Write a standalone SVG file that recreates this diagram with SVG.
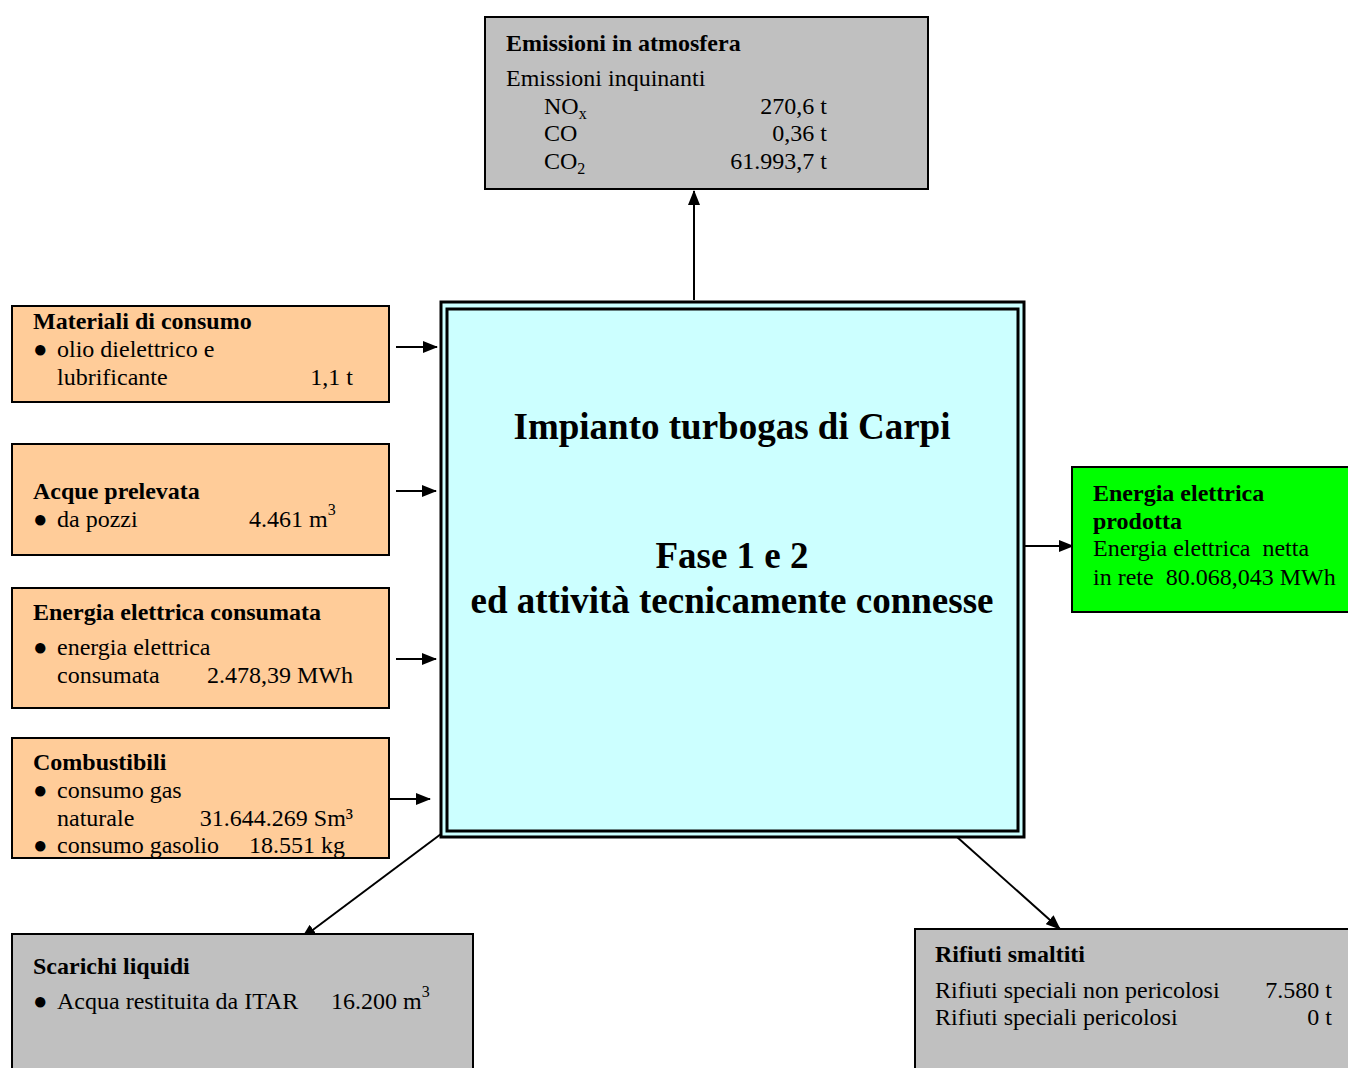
<svg xmlns="http://www.w3.org/2000/svg" width="1348" height="1068" viewBox="0 0 1348 1068">
<style>
text{font-family:"Liberation Serif","Times New Roman",serif;font-size:24px;fill:#000}
.b{font-weight:bold}
.t{font-weight:bold;font-size:37px;text-anchor:middle}
.r{text-anchor:end}
.gray{fill:#C0C0C0;stroke:#000;stroke-width:2}
.or{fill:#FFCC99;stroke:#000;stroke-width:2}
.gr{fill:#00FF00;stroke:#000;stroke-width:2}
.c{stroke:#000;stroke-width:2;fill:none;marker-end:url(#ah)}
.sub{font-size:16px}
</style>
<defs>
<marker id="ah" viewBox="0 0 15 12" refX="14" refY="6" markerWidth="15" markerHeight="12" markerUnits="userSpaceOnUse" orient="auto">
<path d="M0,0 L15,6 L0,12 Z" fill="#000"/>
</marker>
</defs>
<rect width="1348" height="1068" fill="#fff"/>
<g id="connectors">
<line class="c" x1="694" y1="300" x2="694" y2="191"/>
<line class="c" x1="396" y1="347" x2="437" y2="347"/>
<line class="c" x1="396" y1="491" x2="436" y2="491"/>
<line class="c" x1="396" y1="659" x2="436" y2="659"/>
<line class="c" x1="389" y1="799" x2="430" y2="799"/>
<line class="c" x1="1022" y1="546" x2="1073" y2="546"/>
<line class="c" x1="441" y1="834" x2="302" y2="938"/>
<line class="c" x1="957" y1="837" x2="1060" y2="929"/>
</g>
<g id="emissioni">
<rect class="gray" x="485" y="17" width="443" height="172"/>
<text class="b" x="506" y="51">Emissioni in atmosfera</text>
<text x="506" y="86">Emissioni inquinanti</text>
<text x="544" y="114">NO<tspan class="sub" dy="5">x</tspan></text>
<text class="r" x="827" y="114">270,6 t</text>
<text x="544" y="141">CO</text>
<text class="r" x="827" y="141">0,36 t</text>
<text x="544" y="169">CO<tspan class="sub" dy="5">2</tspan></text>
<text class="r" x="827" y="169">61.993,7 t</text>
</g>
<g id="impianto">
<rect x="441" y="302" width="583" height="535" fill="#CCFFFF" stroke="#000" stroke-width="3"/>
<rect x="447" y="309" width="571" height="522" fill="none" stroke="#000" stroke-width="3"/>
<text class="t" x="732" y="439">Impianto turbogas di Carpi</text>
<text class="t" x="732" y="568">Fase 1 e 2</text>
<text class="t" x="732" y="613">ed attività tecnicamente connesse</text>
</g>
<g id="materiali">
<rect class="or" x="12" y="306" width="377" height="96"/>
<text class="b" x="33" y="329">Materiali di consumo</text>
<text x="33" y="357">●</text><text x="57" y="357">olio dielettrico e</text>
<text x="57" y="385">lubrificante</text>
<text class="r" x="353" y="385">1,1 t</text>
</g>
<g id="acque">
<rect class="or" x="12" y="444" width="377" height="111"/>
<text class="b" x="33" y="499">Acque prelevata</text>
<text x="33" y="527">●</text><text x="57" y="527">da pozzi</text>
<text x="249" y="527">4.461 m<tspan class="sub" dy="-12">3</tspan></text>
</g>
<g id="energia-consumata">
<rect class="or" x="12" y="588" width="377" height="120"/>
<text class="b" x="33" y="620">Energia elettrica consumata</text>
<text x="33" y="655">●</text><text x="57" y="655">energia elettrica</text>
<text x="57" y="683">consumata</text>
<text class="r" x="353" y="683">2.478,39 MWh</text>
</g>
<g id="combustibili">
<rect class="or" x="12" y="738" width="377" height="120"/>
<text class="b" x="33" y="770">Combustibili</text>
<text x="33" y="798">●</text><text x="57" y="798">consumo gas</text>
<text x="57" y="826">naturale</text>
<text class="r" x="353" y="826">31.644.269 Sm³</text>
<text x="33" y="853">●</text><text x="57" y="853">consumo gasolio</text>
<text x="249" y="853">18.551 kg</text>
</g>
<g id="energia-prodotta">
<rect class="gr" x="1072" y="467" width="284" height="145"/>
<text class="b" x="1093" y="501">Energia elettrica</text>
<text class="b" x="1093" y="529">prodotta</text>
<text x="1093" y="556" xml:space="preserve">Energia elettrica  netta</text>
<text x="1093" y="585" xml:space="preserve">in rete  80.068,043 MWh</text>
</g>
<g id="scarichi">
<rect class="gray" x="12" y="934" width="461" height="140"/>
<text class="b" x="33" y="974">Scarichi liquidi</text>
<text x="33" y="1009">●</text><text x="57" y="1009">Acqua restituita da ITAR</text>
<text x="331" y="1009">16.200 m<tspan class="sub" dy="-12">3</tspan></text>
</g>
<g id="rifiuti">
<rect class="gray" x="915" y="929" width="440" height="145"/>
<text class="b" x="935" y="962">Rifiuti smaltiti</text>
<text x="935" y="998">Rifiuti speciali non pericolosi</text>
<text class="r" x="1332" y="998">7.580 t</text>
<text x="935" y="1025">Rifiuti speciali pericolosi</text>
<text class="r" x="1332" y="1025">0 t</text>
</g>
</svg>
